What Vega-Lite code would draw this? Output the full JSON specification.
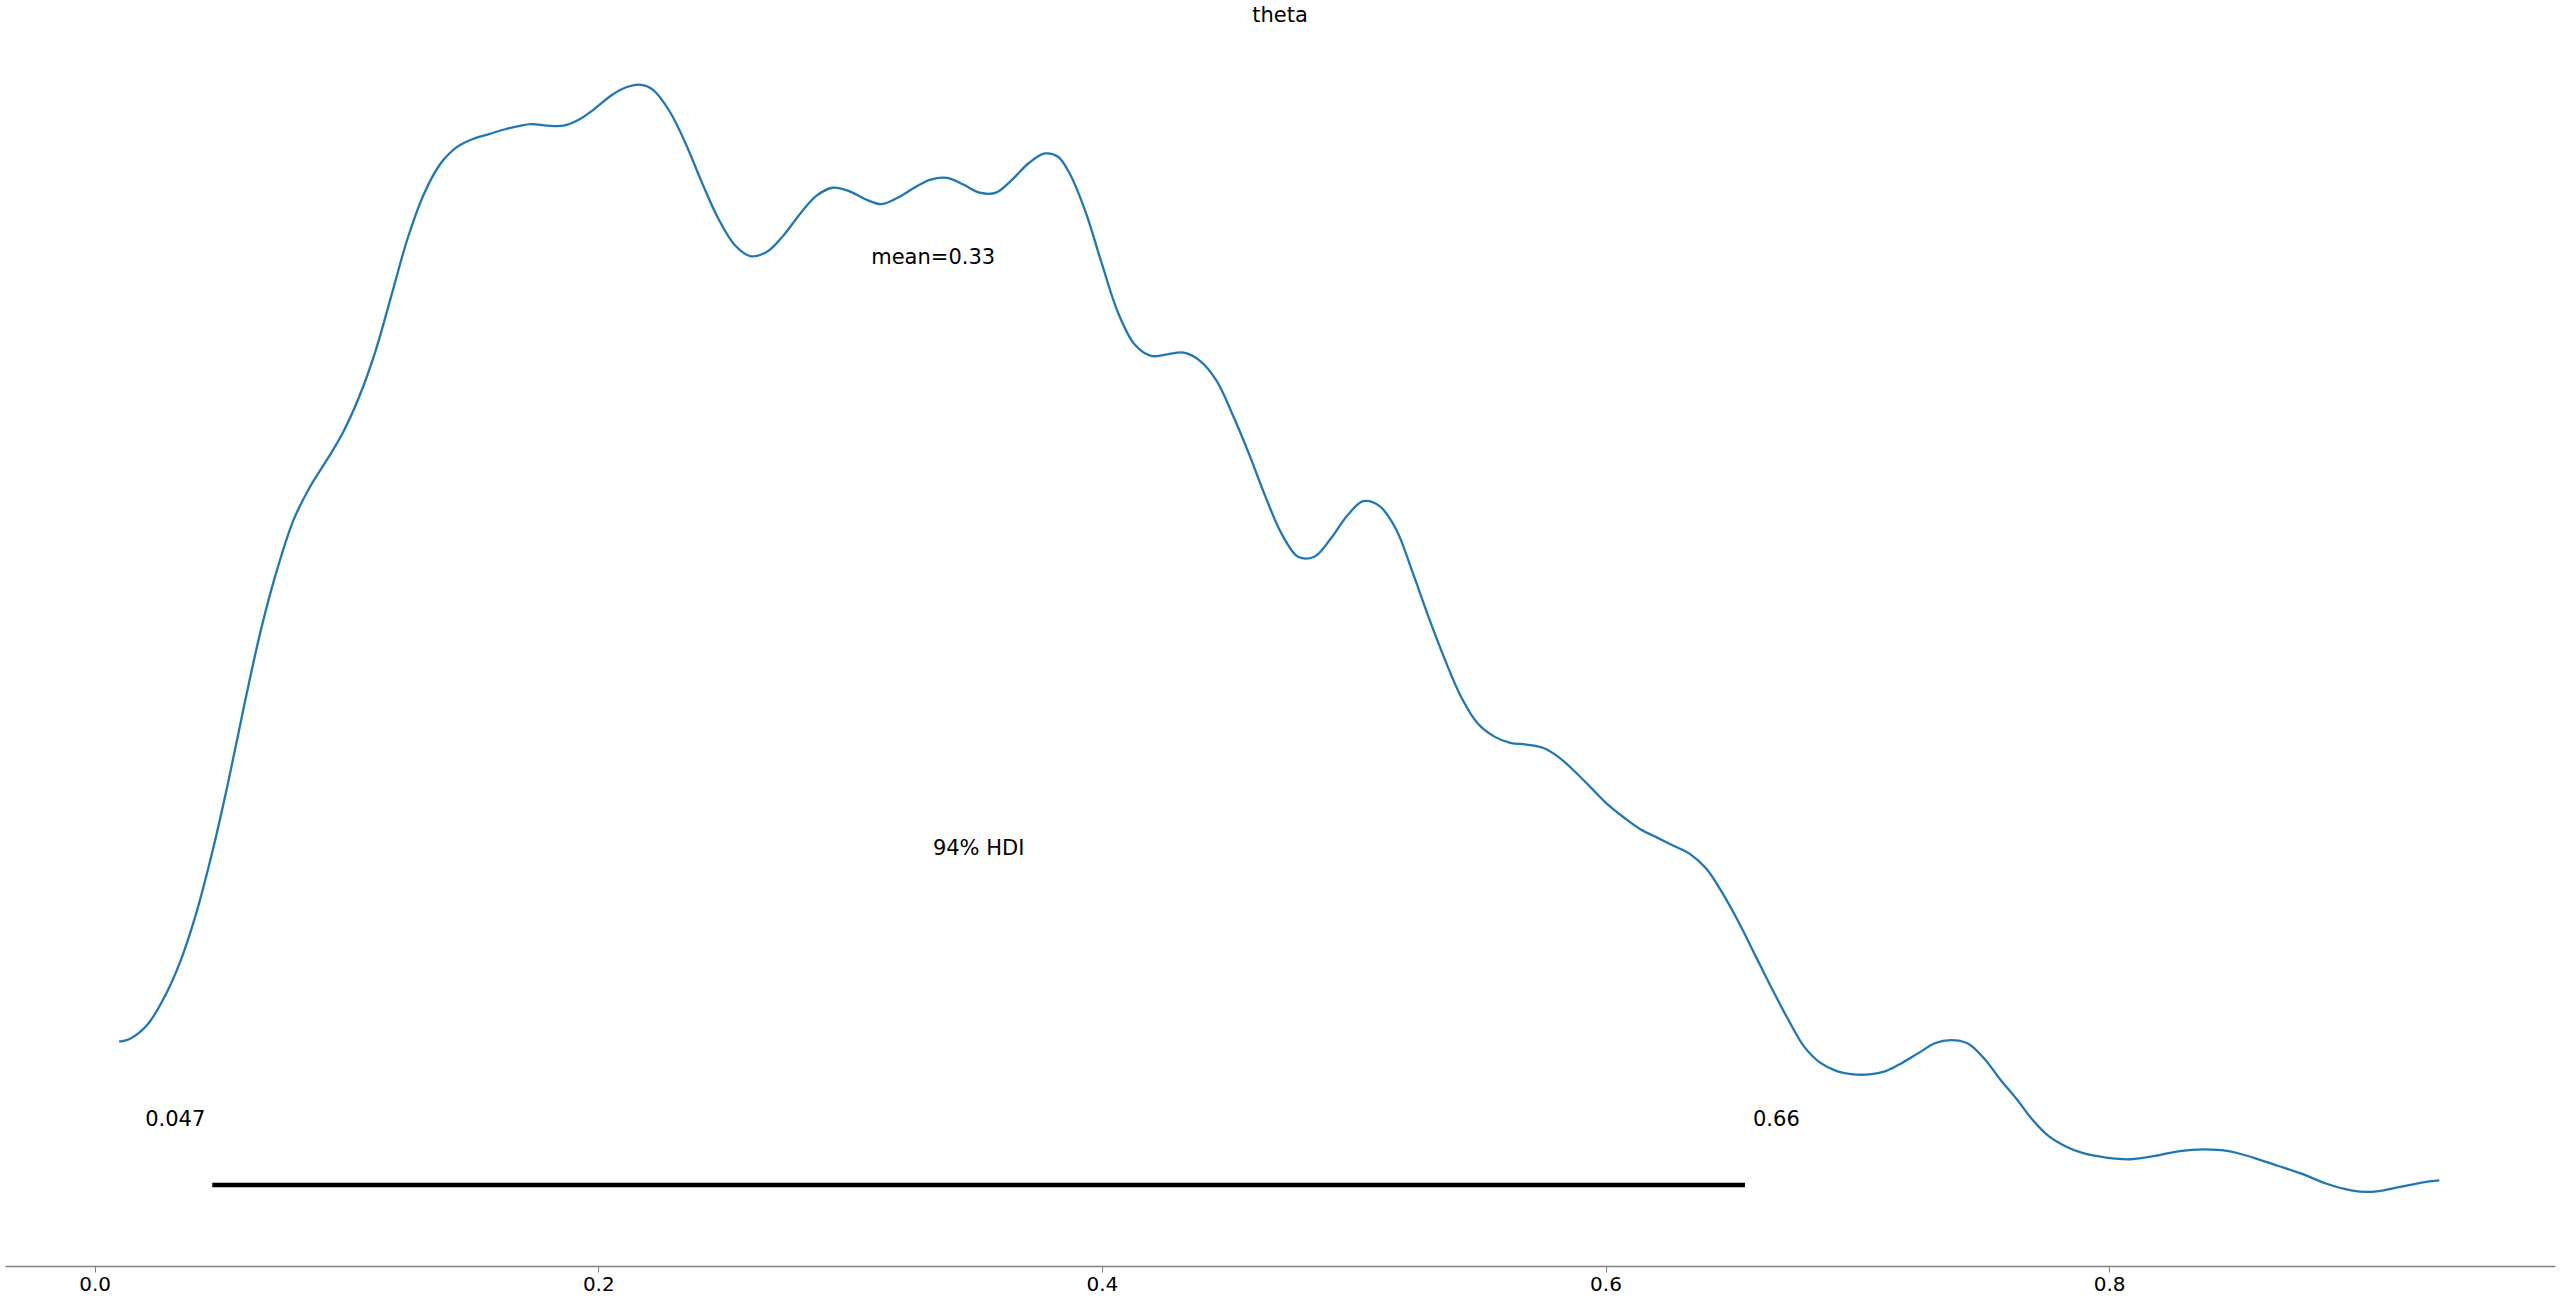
{
  "$schema": "https://vega.github.io/schema/vega-lite/v6.json",
  "autosize": "none",
  "width": 2550,
  "height": 1226,
  "padding": {"left": 5, "top": 40, "right": 5, "bottom": 32},
  "background": "white",
  "config": {"view": {"stroke": null}, "font": "DejaVu Sans"},
  "title": {"text": "theta", "fontSize": 21, "font": "DejaVu Sans", "fontWeight": "normal", "color": "black", "anchor": "middle", "baseline": "alphabetic", "offset": -3},
  "datasets": {
    "kde": [
      {"x": 0.00972, "density": 0.3739},
      {"x": 0.01426, "density": 0.3793},
      {"x": 0.02075, "density": 0.4011},
      {"x": 0.02723, "density": 0.4446},
      {"x": 0.03372, "density": 0.5045},
      {"x": 0.0402, "density": 0.5861},
      {"x": 0.04668, "density": 0.6895},
      {"x": 0.05317, "density": 0.8093},
      {"x": 0.05965, "density": 0.9399},
      {"x": 0.06614, "density": 1.0623},
      {"x": 0.07262, "density": 1.163},
      {"x": 0.0791, "density": 1.2447},
      {"x": 0.08559, "density": 1.2991},
      {"x": 0.09207, "density": 1.3426},
      {"x": 0.09856, "density": 1.3889},
      {"x": 0.10504, "density": 1.4487},
      {"x": 0.11152, "density": 1.5249},
      {"x": 0.11801, "density": 1.6202},
      {"x": 0.12449, "density": 1.7154},
      {"x": 0.13098, "density": 1.7889},
      {"x": 0.13746, "density": 1.8379},
      {"x": 0.14394, "density": 1.8651},
      {"x": 0.15043, "density": 1.8787},
      {"x": 0.15691, "density": 1.8869},
      {"x": 0.1634, "density": 1.895},
      {"x": 0.17312, "density": 1.9032},
      {"x": 0.17961, "density": 1.9005},
      {"x": 0.18609, "density": 1.9005},
      {"x": 0.19258, "density": 1.9114},
      {"x": 0.19906, "density": 1.9304},
      {"x": 0.20554, "density": 1.9522},
      {"x": 0.21203, "density": 1.9658},
      {"x": 0.21722, "density": 1.9685},
      {"x": 0.22175, "density": 1.9603},
      {"x": 0.22824, "density": 1.925},
      {"x": 0.23472, "density": 1.8705},
      {"x": 0.24121, "density": 1.8052},
      {"x": 0.24769, "density": 1.7454},
      {"x": 0.25417, "density": 1.7018},
      {"x": 0.26066, "density": 1.6828},
      {"x": 0.26714, "density": 1.6909},
      {"x": 0.27363, "density": 1.7181},
      {"x": 0.28011, "density": 1.7535},
      {"x": 0.28659, "density": 1.7835},
      {"x": 0.29308, "density": 1.7971},
      {"x": 0.29956, "density": 1.7916},
      {"x": 0.30605, "density": 1.778},
      {"x": 0.31253, "density": 1.7698},
      {"x": 0.31902, "density": 1.7807},
      {"x": 0.3255, "density": 1.7971},
      {"x": 0.33198, "density": 1.8107},
      {"x": 0.33847, "density": 1.8134},
      {"x": 0.34495, "density": 1.8025},
      {"x": 0.35144, "density": 1.7889},
      {"x": 0.35792, "density": 1.7889},
      {"x": 0.3644, "density": 1.8107},
      {"x": 0.37089, "density": 1.8379},
      {"x": 0.37737, "density": 1.8542},
      {"x": 0.38256, "density": 1.8488},
      {"x": 0.3871, "density": 1.8216},
      {"x": 0.39358, "density": 1.7562},
      {"x": 0.40007, "density": 1.6692},
      {"x": 0.40655, "density": 1.5875},
      {"x": 0.41303, "density": 1.5358},
      {"x": 0.41952, "density": 1.5168},
      {"x": 0.426, "density": 1.5195},
      {"x": 0.43249, "density": 1.5222},
      {"x": 0.43897, "density": 1.5086},
      {"x": 0.44545, "density": 1.476},
      {"x": 0.45194, "density": 1.4188},
      {"x": 0.45842, "density": 1.3535},
      {"x": 0.46491, "density": 1.2828},
      {"x": 0.47139, "density": 1.2202},
      {"x": 0.47788, "density": 1.1821},
      {"x": 0.48436, "density": 1.1821},
      {"x": 0.49084, "density": 1.212},
      {"x": 0.49733, "density": 1.2501},
      {"x": 0.50381, "density": 1.2746},
      {"x": 0.5103, "density": 1.2664},
      {"x": 0.51678, "density": 1.2283},
      {"x": 0.52326, "density": 1.1576},
      {"x": 0.52975, "density": 1.0814},
      {"x": 0.53623, "density": 1.0106},
      {"x": 0.54272, "density": 0.948},
      {"x": 0.5492, "density": 0.9045},
      {"x": 0.55568, "density": 0.8827},
      {"x": 0.56217, "density": 0.8719},
      {"x": 0.56865, "density": 0.8691},
      {"x": 0.57514, "density": 0.8637},
      {"x": 0.58162, "density": 0.8474},
      {"x": 0.58811, "density": 0.8229},
      {"x": 0.59459, "density": 0.7957},
      {"x": 0.60107, "density": 0.7684},
      {"x": 0.60756, "density": 0.7467},
      {"x": 0.61404, "density": 0.7276},
      {"x": 0.62053, "density": 0.714},
      {"x": 0.62701, "density": 0.7004},
      {"x": 0.63349, "density": 0.6868},
      {"x": 0.63998, "density": 0.6623},
      {"x": 0.64646, "density": 0.6215},
      {"x": 0.65295, "density": 0.5725},
      {"x": 0.65943, "density": 0.5181},
      {"x": 0.66591, "density": 0.4637},
      {"x": 0.6724, "density": 0.412},
      {"x": 0.67888, "density": 0.3657},
      {"x": 0.68537, "density": 0.3385},
      {"x": 0.69185, "density": 0.3249},
      {"x": 0.69834, "density": 0.3194},
      {"x": 0.70482, "density": 0.3194},
      {"x": 0.7113, "density": 0.3249},
      {"x": 0.71779, "density": 0.3385},
      {"x": 0.72427, "density": 0.3548},
      {"x": 0.73076, "density": 0.3712},
      {"x": 0.73724, "density": 0.3766},
      {"x": 0.74372, "density": 0.3712},
      {"x": 0.75021, "density": 0.3467},
      {"x": 0.75669, "density": 0.3113},
      {"x": 0.76318, "density": 0.2786},
      {"x": 0.76966, "density": 0.2433},
      {"x": 0.77615, "density": 0.216},
      {"x": 0.78263, "density": 0.1997},
      {"x": 0.78911, "density": 0.1888},
      {"x": 0.79884, "density": 0.1807},
      {"x": 0.80857, "density": 0.1779},
      {"x": 0.81829, "density": 0.1834},
      {"x": 0.82802, "density": 0.1916},
      {"x": 0.83774, "density": 0.1943},
      {"x": 0.84747, "density": 0.1916},
      {"x": 0.8572, "density": 0.1807},
      {"x": 0.86692, "density": 0.1671},
      {"x": 0.87665, "density": 0.1535},
      {"x": 0.88637, "density": 0.1371},
      {"x": 0.8961, "density": 0.1262},
      {"x": 0.90259, "density": 0.1235},
      {"x": 0.90907, "density": 0.1262},
      {"x": 0.91555, "density": 0.1317},
      {"x": 0.92528, "density": 0.1399},
      {"x": 0.93112, "density": 0.1426}
    ],
    "hdi": [{"lo": 0.0467, "hi": 0.6554, "y": 0.135, "label_y": 0.2433, "mid": 0.35105, "text_y": 0.695}],
    "stats": [{"mean": 0.333, "y": 1.68}]
  },
  "layer": [
    {
      "data": {"name": "kde"},
      "mark": {"type": "line", "color": "#1f77b4", "strokeWidth": 2.3, "interpolate": "catmull-rom"},
      "encoding": {
        "x": {"field": "x", "type": "quantitative", "scale": {"domain": [-0.03562, 0.97708], "nice": false, "zero": false},
          "axis": {"values": [0, 0.2, 0.4, 0.6, 0.8], "format": ".1f", "title": null, "grid": false, "domainColor": "#808080", "domainWidth": 1.6, "tickColor": "#808080", "tickSize": 6, "tickWidth": 1, "labelFontSize": 20, "labelFont": "DejaVu Sans", "labelColor": "black", "labelPadding": 2}},
        "y": {"field": "density", "type": "quantitative", "scale": {"domain": [0, 2.04333], "nice": false, "zero": false}, "axis": null}
      }
    },
    {
      "data": {"name": "hdi"},
      "mark": {"type": "rule", "color": "black", "strokeWidth": 4.5},
      "encoding": {
        "x": {"field": "lo", "type": "quantitative"},
        "x2": {"field": "hi"},
        "y": {"field": "y", "type": "quantitative"}
      }
    },
    {
      "data": {"name": "hdi"},
      "mark": {"type": "text", "align": "right", "baseline": "middle", "dx": -7, "fontSize": 21, "font": "DejaVu Sans", "color": "black"},
      "encoding": {
        "x": {"field": "lo", "type": "quantitative"},
        "y": {"field": "label_y", "type": "quantitative"},
        "text": {"field": "lo", "type": "quantitative", "format": ".2r"}
      }
    },
    {
      "data": {"name": "hdi"},
      "mark": {"type": "text", "align": "left", "baseline": "middle", "dx": 8, "fontSize": 21, "font": "DejaVu Sans", "color": "black"},
      "encoding": {
        "x": {"field": "hi", "type": "quantitative"},
        "y": {"field": "label_y", "type": "quantitative"},
        "text": {"field": "hi", "type": "quantitative", "format": ".2r"}
      }
    },
    {
      "data": {"name": "hdi"},
      "mark": {"type": "text", "align": "center", "baseline": "middle", "fontSize": 21, "font": "DejaVu Sans", "color": "black", "text": "94% HDI"},
      "encoding": {
        "x": {"field": "mid", "type": "quantitative"},
        "y": {"field": "text_y", "type": "quantitative"}
      }
    },
    {
      "data": {"name": "stats"},
      "mark": {"type": "text", "align": "center", "baseline": "middle", "fontSize": 21, "font": "DejaVu Sans", "color": "black"},
      "encoding": {
        "x": {"field": "mean", "type": "quantitative"},
        "y": {"field": "y", "type": "quantitative"},
        "text": {"value": "mean=0.33"}
      }
    }
  ]
}
